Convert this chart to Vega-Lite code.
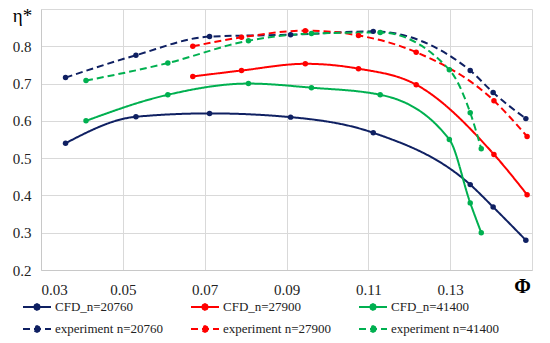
{
  "$schema": "https://vega.github.io/schema/vega-lite/v6.json",
  "width": 491,
  "height": 261,
  "autosize": {"type": "none"},
  "padding": {"left": 41, "top": 9, "right": 18, "bottom": 73},
  "background": "white",
  "config": {
    "view": {"stroke": null},
    "font": "Liberation Serif, Times New Roman, serif"
  },
  "data": {
    "values": [
      {"series": "CFD_n=20760", "kind": "CFD", "phi": 0.036, "eta": 0.54},
      {"series": "CFD_n=20760", "kind": "CFD", "phi": 0.0532, "eta": 0.611},
      {"series": "CFD_n=20760", "kind": "CFD", "phi": 0.0712, "eta": 0.62},
      {"series": "CFD_n=20760", "kind": "CFD", "phi": 0.091, "eta": 0.61},
      {"series": "CFD_n=20760", "kind": "CFD", "phi": 0.1112, "eta": 0.568},
      {"series": "CFD_n=20760", "kind": "CFD", "phi": 0.1349, "eta": 0.429},
      {"series": "CFD_n=20760", "kind": "CFD", "phi": 0.1405, "eta": 0.369},
      {"series": "CFD_n=20760", "kind": "CFD", "phi": 0.1485, "eta": 0.28},
      {"series": "CFD_n=27900", "kind": "CFD", "phi": 0.0671, "eta": 0.719},
      {"series": "CFD_n=27900", "kind": "CFD", "phi": 0.079, "eta": 0.735},
      {"series": "CFD_n=27900", "kind": "CFD", "phi": 0.0946, "eta": 0.753},
      {"series": "CFD_n=27900", "kind": "CFD", "phi": 0.1076, "eta": 0.74},
      {"series": "CFD_n=27900", "kind": "CFD", "phi": 0.1217, "eta": 0.697},
      {"series": "CFD_n=27900", "kind": "CFD", "phi": 0.1407, "eta": 0.51},
      {"series": "CFD_n=27900", "kind": "CFD", "phi": 0.1488, "eta": 0.402},
      {"series": "CFD_n=41400", "kind": "CFD", "phi": 0.041, "eta": 0.6},
      {"series": "CFD_n=41400", "kind": "CFD", "phi": 0.061, "eta": 0.67},
      {"series": "CFD_n=41400", "kind": "CFD", "phi": 0.0807, "eta": 0.7},
      {"series": "CFD_n=41400", "kind": "CFD", "phi": 0.0961, "eta": 0.689},
      {"series": "CFD_n=41400", "kind": "CFD", "phi": 0.1129, "eta": 0.67},
      {"series": "CFD_n=41400", "kind": "CFD", "phi": 0.1298, "eta": 0.55},
      {"series": "CFD_n=41400", "kind": "CFD", "phi": 0.1349, "eta": 0.38},
      {"series": "CFD_n=41400", "kind": "CFD", "phi": 0.1376, "eta": 0.3},
      {"series": "experiment n=20760", "kind": "experiment", "phi": 0.036, "eta": 0.716},
      {"series": "experiment n=20760", "kind": "experiment", "phi": 0.0532, "eta": 0.776},
      {"series": "experiment n=20760", "kind": "experiment", "phi": 0.0712, "eta": 0.826},
      {"series": "experiment n=20760", "kind": "experiment", "phi": 0.091, "eta": 0.831},
      {"series": "experiment n=20760", "kind": "experiment", "phi": 0.1112, "eta": 0.84},
      {"series": "experiment n=20760", "kind": "experiment", "phi": 0.1349, "eta": 0.735},
      {"series": "experiment n=20760", "kind": "experiment", "phi": 0.1405, "eta": 0.676},
      {"series": "experiment n=20760", "kind": "experiment", "phi": 0.1485, "eta": 0.606},
      {"series": "experiment n=27900", "kind": "experiment", "phi": 0.0671, "eta": 0.8},
      {"series": "experiment n=27900", "kind": "experiment", "phi": 0.079, "eta": 0.824},
      {"series": "experiment n=27900", "kind": "experiment", "phi": 0.0946, "eta": 0.842},
      {"series": "experiment n=27900", "kind": "experiment", "phi": 0.1076, "eta": 0.829},
      {"series": "experiment n=27900", "kind": "experiment", "phi": 0.1217, "eta": 0.784},
      {"series": "experiment n=27900", "kind": "experiment", "phi": 0.1407, "eta": 0.654},
      {"series": "experiment n=27900", "kind": "experiment", "phi": 0.1488, "eta": 0.558},
      {"series": "experiment n=41400", "kind": "experiment", "phi": 0.041, "eta": 0.708},
      {"series": "experiment n=41400", "kind": "experiment", "phi": 0.061, "eta": 0.755},
      {"series": "experiment n=41400", "kind": "experiment", "phi": 0.0807, "eta": 0.815},
      {"series": "experiment n=41400", "kind": "experiment", "phi": 0.0961, "eta": 0.834},
      {"series": "experiment n=41400", "kind": "experiment", "phi": 0.1129, "eta": 0.837},
      {"series": "experiment n=41400", "kind": "experiment", "phi": 0.1298, "eta": 0.737},
      {"series": "experiment n=41400", "kind": "experiment", "phi": 0.1349, "eta": 0.622},
      {"series": "experiment n=41400", "kind": "experiment", "phi": 0.1376, "eta": 0.525}
    ]
  },
  "encoding": {
    "x": {
      "field": "phi", "type": "quantitative",
      "scale": {"domain": [0.03, 0.15], "nice": false, "zero": false},
      "axis": {
        "values": [0.03, 0.05, 0.07, 0.09, 0.11, 0.13, 0.15],
        "labelExpr": "datum.value > 0.145 ? '' : format(datum.value, '.2f')",
        "title": "Φ",
        "titleFontWeight": "bold",
        "titleFontSize": 20,
        "titleFont": "Liberation Serif, Times New Roman, serif",
        "titleX": 481, "titleY": 16,
        "titleAlign": "center", "titleBaseline": "middle",
        "titleColor": "#000000",
        "labelFont": "Liberation Serif, Times New Roman, serif", "labelFontSize": 15, "labelColor": "#222222",
        "labelPadding": 12,
        "ticks": false,
        "domainColor": "#c8c8c8",
        "gridColor": "#d9d9d9",
        "grid": true
      }
    },
    "y": {
      "field": "eta", "type": "quantitative",
      "scale": {"domain": [0.2, 0.9], "nice": false, "zero": false},
      "axis": {
        "values": [0.2, 0.3, 0.4, 0.5, 0.6, 0.7, 0.8, 0.9],
        "labelExpr": "datum.value > 0.85 ? '' : format(datum.value, '.1f')",
        "title": "η*",
        "titleAngle": 0,
        "titleFont": "Liberation Serif, Times New Roman, serif",
        "titleFontWeight": "normal",
        "titleFontSize": 19,
        "titleX": -19, "titleY": 6,
        "titleAlign": "center", "titleBaseline": "middle",
        "titleColor": "#000000",
        "labelFont": "Liberation Serif, Times New Roman, serif", "labelFontSize": 15, "labelColor": "#222222",
        "labelPadding": 10,
        "ticks": false,
        "domainColor": "#c8c8c8",
        "gridColor": "#d9d9d9",
        "grid": true
      }
    },
    "color": {
      "field": "series", "type": "nominal",
      "scale": {
        "domain": ["CFD_n=20760", "CFD_n=27900", "CFD_n=41400", "experiment n=20760", "experiment n=27900", "experiment n=41400"],
        "range": ["#0f2062", "#ff0000", "#00b050", "#0f2062", "#ff0000", "#00b050"]
      },
      "legend": {
        "orient": "none",
        "legendX": -19,
        "legendY": 283,
        "direction": "horizontal",
        "columns": 3,
        "title": null,
        "symbolType": "M-1,0L1,0M0.2,0L0.14,0.14L0,0.2L-0.14,0.14L-0.2,0L-0.14,-0.14L0,-0.2L0.14,-0.14Z",
        "symbolSize": 784,
        "symbolStrokeWidth": 2,
        "labelOffset": 3,
        "columnPadding": 23,
        "rowPadding": 0,
        "gridAlign": "all",
        "labelFont": "Liberation Serif, Times New Roman, serif",
        "labelFontSize": 13,
        "labelColor": "#222222",
        "labelLimit": 200
      }
    },
    "strokeDash": {
      "field": "series", "type": "nominal",
      "scale": {
        "domain": ["CFD_n=20760", "CFD_n=27900", "CFD_n=41400", "experiment n=20760", "experiment n=27900", "experiment n=41400"],
        "range": [[1, 0], [1, 0], [1, 0], [7, 4], [7, 4], [7, 4]]
      }
    }
  },
  "layer": [
    {
      "mark": {"type": "line", "interpolate": "monotone", "strokeWidth": 2}
    },
    {
      "mark": {"type": "point", "filled": true, "size": 30, "opacity": 1}
    }
  ]
}
